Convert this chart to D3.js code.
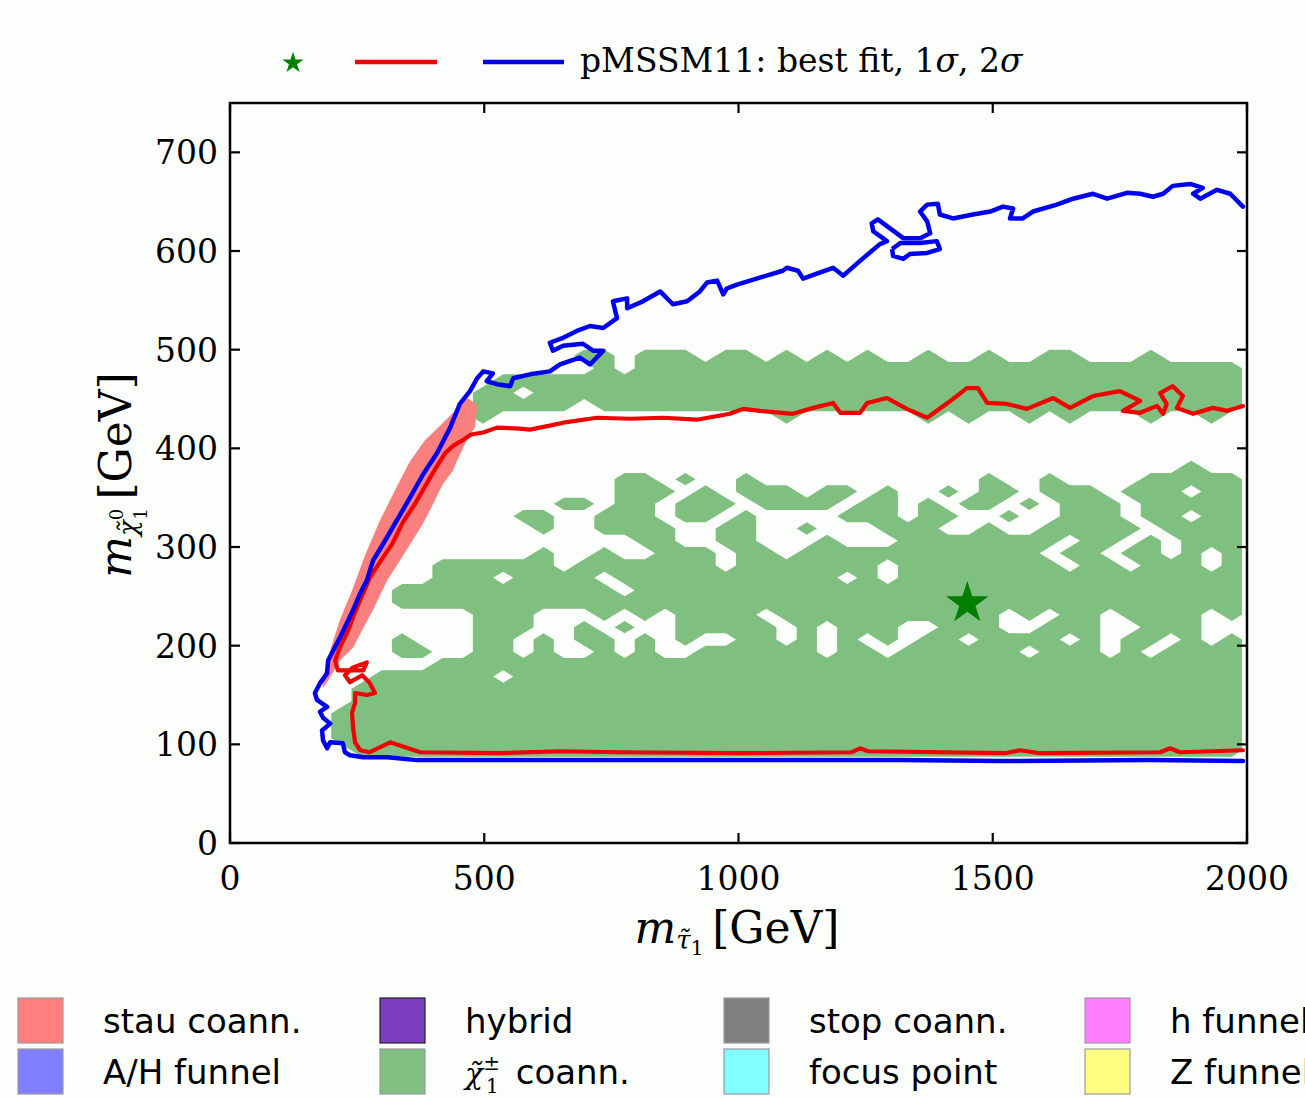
<!DOCTYPE html>
<html>
<head>
<meta charset="utf-8">
<script src="https://cdn.jsdelivr.net/npm/d3@7"></script>
<style>
  html, body { margin: 0; padding: 0; background: #fbfefb; }
  svg { display: block; }
</style>
</head>
<body>
<svg id="chart" width="1305" height="1098"></svg>
<script>
// ---------------- data ----------------
const xTicks = [0, 500, 1000, 1500, 2000];
const yTicks = [0, 100, 200, 300, 400, 500, 600, 700];
const xDomain = [0, 2000];
const yDomain = [0, 750];

// best-fit point [m_stau, m_chi]
const bestFit = [1450, 243];

// chargino-coannihilation scan cells: 50 columns (40 GeV) x 60 rows (12.5 GeV),
// each entry = [row from bottom, list of [firstCol, lastCol] runs that are filled]
const charginoCells = [
  [39, [[17,18],[20,22],[24,25],[27,27],[29,29],[31,31],[34,34],[37,37],[40,41],[45,45]]],
  [38, [[18,18],[20,49]]],
  [37, [[13,49]]],
  [36, [[12,13],[15,49]]],
  [35, [[12,16],[18,49]]],
  [34, [[12,12],[27,27],[34,34],[36,36],[39,39],[41,41],[45,45],[48,48]]],
  [30, [[47,47]]],
  [29, [[19,20],[22,22],[25,25],[37,37],[40,40],[45,49]]],
  [28, [[19,21],[23,23],[25,27],[29,30],[32,32],[35,35],[37,38],[40,42],[44,46],[48,49]]],
  [27, [[16,17],[19,20],[22,24],[26,29],[31,32],[34,34],[36,37],[39,39],[41,43],[45,49]]],
  [26, [[14,15],[18,20],[22,23],[25,25],[30,32],[34,35],[38,38],[41,43],[45,46],[48,49]]],
  [25, [[15,15],[18,21],[24,25],[28,28],[32,34],[37,37],[40,44],[46,49]]],
  [24, [[20,21],[24,25],[29,29],[33,40],[42,43],[45,45],[47,49]]],
  [23, [[15,15],[18,18],[21,23],[25,26],[28,39],[41,42],[44,45],[47,47],[49,49]]],
  [22, [[10,15],[17,23],[25,31],[33,40],[42,43],[45,47],[49,49]]],
  [21, [[10,12],[14,17],[19,29],[31,31],[33,49]]],
  [20, [[8,18],[20,49]]],
  [19, [[8,49]]],
  [18, [[12,14],[18,18],[20,20],[22,25],[27,37],[39,39],[41,42],[44,47],[49,49]]],
  [17, [[12,14],[17,17],[19,19],[22,26],[28,28],[30,32],[35,37],[40,42],[45,47]]],
  [16, [[8,8],[12,13],[15,15],[17,18],[20,20],[22,22],[25,26],[28,28],[30,30],[32,32],[34,35],[37,40],[42,42],[44,45],[47,47],[49,49]]],
  [15, [[8,9],[12,13],[15,15],[18,18],[20,20],[23,28],[30,31],[33,38],[40,42],[44,44],[46,49]]],
  [14, [[10,49]]],
  [13, [[7,12],[14,49]]],
  [12, [[6,49]]],
  [11, [[6,49]]],
  [10, [[5,49]]],
  [9,  [[5,49]]],
  [8,  [[5,49]]],
  [7,  [[6,49]]]
];
const gridCols = 50, gridRows = 60;
const gridXMax = 1990;

// stau-coannihilation strip (outline, GeV)
const stauRegion = [
  [488,443],[485,438],[482,421],[468,411],[446,387],[438,377],[419,364],[393,337],[380,324],
  [334,286],[309,266],[281,236],[262,218],[242,198],[216,185],[197,168],[183,157],
  [181,165],[197,195],[216,226],[240,256],[265,291],[295,327],[324,357],[354,387],
  [383,408],[423,428],[452,443],[468,451]
];

// 1 sigma contour
const sigma1 = [
  [1992,94],[1868,92],[1849,96],[1829,92],[1593,91],[1554,94],[1524,91],[1255,93],[1239,96],
  [1223,92],[1003,91],[767,92],[649,93],[531,91],[374,92],[315,102],[275,92],[256,94],
  [246,102],[242,117],[240,132],[246,142],[246,152],[269,150],[285,152],[275,162],[260,170],
  [236,163],[226,170],[242,178],[269,183],[262,175],[212,175],[207,185],[216,198],
  [232,215],[246,234],[260,251],[275,269],[299,288],[319,303],[340,325],[364,344],[390,367],
  [407,382],[423,395],[440,403],[460,409],[474,414],[498,416],[525,421],[570,420],[590,419],
  [629,423],[655,426],[722,431],[787,430],[852,431],[918,429],[983,435],[1009,440],[1042,438],
  [1107,435],[1147,441],[1186,446],[1200,436],[1239,436],[1253,446],[1292,451],[1331,440],
  [1371,431],[1422,450],[1449,461],[1471,461],[1489,446],[1528,445],[1567,440],[1619,451],
  [1652,441],[1697,453],[1750,458],[1790,448],[1756,438],[1790,436],[1823,443],[1835,435],
  [1842,445],[1829,456],[1854,463],[1874,453],[1862,441],[1894,435],[1933,441],[1961,438],
  [1992,443]
];

// 2 sigma contour
const sigma2 = [
  [1992,83],[1809,84],[1514,83],[1318,84],[1023,84],[649,84],[368,84],[309,87],[262,87],
  [236,89],[226,92],[222,101],[197,102],[191,96],[183,104],[181,114],[197,121],[183,127],
  [177,133],[191,138],[171,145],[167,152],[177,162],[191,172],[193,185],[203,195],[216,208],
  [230,223],[242,236],[256,253],[269,266],[281,286],[301,303],[328,327],[354,350],[380,374],
  [407,395],[433,421],[452,445],[472,458],[486,471],[498,478],[517,476],[505,468],[525,465],
  [551,463],[557,471],[590,475],[629,478],[649,485],[688,492],[708,485],[734,499],[714,499],
  [694,506],[655,504],[635,499],[629,507],[655,512],[682,519],[708,524],[734,522],[761,532],
  [753,549],[781,552],[781,542],[812,549],[846,559],[871,546],[899,549],[924,559],[938,568],
  [958,570],[970,556],[977,562],[997,566],[1042,573],[1087,580],[1095,583],[1117,580],
  [1127,572],[1154,577],[1186,583],[1206,575],[1239,590],[1278,607],[1292,610],[1265,620],
  [1262,628],[1274,632],[1298,623],[1324,613],[1357,613],[1377,618],[1371,630],[1357,640],
  [1371,647],[1392,648],[1396,637],[1422,633],[1461,637],[1495,640],[1520,645],[1540,643],
  [1534,633],[1559,633],[1579,640],[1626,647],[1658,653],[1697,658],[1725,653],[1764,659],
  [1790,658],[1815,655],[1835,658],[1854,666],[1888,668],[1913,664],[1894,658],[1908,653],
  [1941,662],[1967,658],[1992,645]
];
const sigma2Island = [
  [1302,602],[1318,608],[1357,608],[1390,610],[1396,602],[1371,598],[1337,597],[1324,592],
  [1304,595],[1302,602]
];

// region legend
const regionNames = ["stau coann.", "A/H funnel", "hybrid", "\u03C7\u0303\u2081\u00B1 coann.",
                     "stop coann.", "focus point", "h funnel", "Z funnel"];
const regionColors = ["#ff7f7f", "#7f7fff", "#7b3dbd", "#7fbf7f",
                      "#7f7f7f", "#7fffff", "#ff7fff", "#ffff7f"];

// ---------------- drawing ----------------
const svg = d3.select("#chart");
const W = 1305, H = 1098;
svg.append("rect").attr("width", W).attr("height", H).attr("fill", "#fbfefb");

const plot = { left: 230, right: 1247, top: 103, bottom: 843 };
const x = d3.scaleLinear(xDomain, [plot.left, plot.right]);
const y = d3.scaleLinear(yDomain, [plot.bottom, plot.top]);

const serif = "'DejaVu Serif', serif";
const sans = "'DejaVu Sans', sans-serif";

svg.append("clipPath").attr("id", "plotClip")
  .append("rect").attr("x", plot.left).attr("y", plot.top)
  .attr("width", plot.right - plot.left).attr("height", plot.bottom - plot.top);

const g = svg.append("g").attr("clip-path", "url(#plotClip)");

// rasterised chargino-coannihilation region -> filled contour
const grid = new Array(gridCols * gridRows).fill(0);
charginoCells.forEach(([row, runs]) => {
  const r = gridRows - 1 - row;
  runs.forEach(([a, b]) => { for (let c = a; c <= b; c++) grid[r * gridCols + c] = 1; });
});
const cellW = gridXMax / gridCols, cellH = (yDomain[1] - yDomain[0]) / gridRows;
const gridProj = d3.geoTransform({
  point(gx, gy) { this.stream.point(x(gx * cellW), y(yDomain[1] - gy * cellH)); }
});
const contour = d3.contours().size([gridCols, gridRows]).thresholds([0.5])(grid);
g.append("path")
  .attr("d", d3.geoPath(gridProj)(contour[0]))
  .attr("fill", "#7fbf7f");

// stau coannihilation strip
g.append("path")
  .attr("d", d3.line().x(d => x(d[0])).y(d => y(d[1]))(stauRegion) + "Z")
  .attr("fill", "#fa8080");

const line = d3.line().x(d => x(d[0])).y(d => y(d[1]));

g.append("path").attr("d", line(sigma1))
  .attr("fill", "none").attr("stroke", "#f00000").attr("stroke-width", 4.2)
  .attr("stroke-linejoin", "round").attr("stroke-linecap", "round");

g.append("path").attr("d", line(sigma2))
  .attr("fill", "none").attr("stroke", "#0000f0").attr("stroke-width", 4.5)
  .attr("stroke-linejoin", "round").attr("stroke-linecap", "round");
g.append("path").attr("d", line(sigma2Island))
  .attr("fill", "none").attr("stroke", "#0000f0").attr("stroke-width", 4.5)
  .attr("stroke-linejoin", "round");

// best fit star
g.append("path")
  .attr("d", d3.symbol(d3.symbolStar, 560)())
  .attr("transform", `translate(${x(bestFit[0])},${y(bestFit[1])})`)
  .attr("fill", "#007f00");

// frame
svg.append("rect")
  .attr("x", plot.left).attr("y", plot.top)
  .attr("width", plot.right - plot.left).attr("height", plot.bottom - plot.top)
  .attr("fill", "none").attr("stroke", "#000").attr("stroke-width", 2.5);

// inward ticks on all four sides
const tickLen = 10;
const ticks = svg.append("g").attr("stroke", "#000").attr("stroke-width", 2.2);
xTicks.forEach(v => {
  ticks.append("line").attr("x1", x(v)).attr("x2", x(v)).attr("y1", plot.bottom).attr("y2", plot.bottom - tickLen);
  ticks.append("line").attr("x1", x(v)).attr("x2", x(v)).attr("y1", plot.top).attr("y2", plot.top + tickLen);
});
yTicks.forEach(v => {
  ticks.append("line").attr("y1", y(v)).attr("y2", y(v)).attr("x1", plot.left).attr("x2", plot.left + tickLen);
  ticks.append("line").attr("y1", y(v)).attr("y2", y(v)).attr("x1", plot.right).attr("x2", plot.right - tickLen);
});

// tick labels
svg.append("g").selectAll("text").data(xTicks).join("text")
  .attr("x", d => x(d)).attr("y", plot.bottom + 47)
  .attr("text-anchor", "middle")
  .attr("font-family", serif).attr("font-size", 33).attr("fill", "#000")
  .text(d => d);
svg.append("g").selectAll("text").data(yTicks).join("text")
  .attr("x", plot.left - 12).attr("y", d => y(d) + 12)
  .attr("text-anchor", "end")
  .attr("font-family", serif).attr("font-size", 33).attr("fill", "#000")
  .text(d => d);

// axis titles
const xl = svg.append("text")
  .attr("x", 737).attr("y", 943).attr("text-anchor", "middle")
  .attr("font-family", serif).attr("font-size", 44).attr("fill", "#000");
xl.append("tspan").attr("font-style", "italic").text("m");
xl.append("tspan").attr("font-size", 26).attr("font-style", "italic").attr("dy", 6).text("\u03C4\u0303");
xl.append("tspan").attr("font-size", 20).attr("dy", 6).text("1");
xl.append("tspan").attr("dy", -12).text("\u2009[GeV]");

const yl = svg.append("text")
  .attr("transform", "translate(131,475) rotate(-90)").attr("text-anchor", "middle")
  .attr("font-family", serif).attr("font-size", 44).attr("fill", "#000");
yl.append("tspan").attr("font-style", "italic").text("m");
yl.append("tspan").attr("font-size", 26).attr("font-style", "italic").attr("dy", 6).text("\u03C7\u0303");
yl.append("tspan").attr("font-size", 18).attr("dy", -14).text("0");
yl.append("tspan").attr("font-size", 18).attr("dx", -11).attr("dy", 24).text("1");
yl.append("tspan").attr("dy", -16).text("\u2009[GeV]");

// top legend: best fit, 1 sigma, 2 sigma
svg.append("path")
  .attr("d", d3.symbol(d3.symbolStar, 140)())
  .attr("transform", "translate(293,63)")
  .attr("fill", "#007f00");
svg.append("line").attr("x1", 355).attr("x2", 437).attr("y1", 62).attr("y2", 62)
  .attr("stroke", "#f00000").attr("stroke-width", 4.5);
svg.append("line").attr("x1", 483).attr("x2", 564).attr("y1", 62).attr("y2", 62)
  .attr("stroke", "#0000f0").attr("stroke-width", 4.5);
const lt = svg.append("text").attr("x", 580).attr("y", 72)
  .attr("font-family", serif).attr("font-size", 33).attr("fill", "#000");
lt.append("tspan").text("pMSSM11: best fit, 1");
lt.append("tspan").attr("font-style", "italic").text("\u03C3");
lt.append("tspan").text(", 2");
lt.append("tspan").attr("font-style", "italic").text("\u03C3");

// region legend (4 columns x 2 rows)
const legCols = [18, 380, 724, 1085];
const legRows = [998, 1049];
const legend = svg.append("g");
regionNames.forEach((name, i) => {
  const cx = legCols[Math.floor(i / 2)], ry = legRows[i % 2];
  legend.append("rect")
    .attr("x", cx).attr("y", ry).attr("width", 45).attr("height", 45)
    .attr("fill", regionColors[i])
    .attr("stroke", i === 2 ? "#222" : "#999").attr("stroke-width", 1.2);
  const t = legend.append("text")
    .attr("x", cx + 85).attr("y", ry + 35)
    .attr("font-family", sans).attr("font-size", 34).attr("fill", "#000");
  if (i === 3) {
    t.append("tspan").attr("font-family", serif).attr("font-style", "italic").attr("font-size", 30).text("\u03C7\u0303");
    t.append("tspan").attr("font-family", serif).attr("font-size", 20).attr("dy", -14).text("\u00B1");
    t.append("tspan").attr("font-family", serif).attr("font-size", 20).attr("dx", -14).attr("dy", 23).text("1");
    t.append("tspan").attr("dy", -9).text("\u2002coann.");
  } else {
    t.text(name);
  }
});
</script>
</body>
</html>
